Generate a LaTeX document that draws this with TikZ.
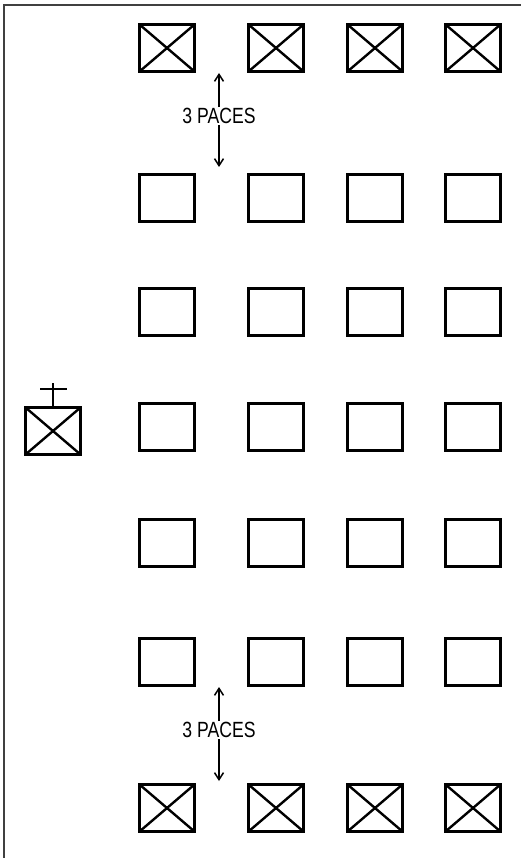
\documentclass[tikz,border=0pt]{standalone}
\usepackage{fontspec}
\setmainfont{Liberation Sans}
\usetikzlibrary{arrows.meta, positioning}
\tikzset{
  every picture/.style={x=1pt, y=-1pt},
  marker/.style={draw, line width=3.4pt, minimum width=55pt, minimum height=47pt, inner sep=0pt},
  crossed/.style={marker, path picture={
      \draw[line width=2.4pt] (path picture bounding box.north west) -- (path picture bounding box.south east)
        (path picture bounding box.north east) -- (path picture bounding box.south west);}},
  paces/.style={font=\fontsize{22}{24}\selectfont, xscale=0.8, inner sep=1pt},
  arrow/.style={-{Straight Barb[length=7pt, width=9pt]}, line width=1.5pt},
  frame/.style={draw=black!75, line width=1.6pt},
}
\begin{document}
\begin{tikzpicture}
  \useasboundingbox (0,0) rectangle (521,858);
  \draw[frame] (4,858) -- (4,5) -- (521,5);
  % columns and rows of markers
  \foreach \c/\x in {1/167, 2/276, 3/375, 4/473} {
    \node[crossed] (r1c\c) at (\x,48) {};
    \foreach \r/\y in {2/198, 3/312, 4/427, 5/543, 6/662}
      \node[marker] (r\r c\c) at (\x,\y) {};
    \node[crossed] (r7c\c) at (\x,808) {};
  }
  % guide
  \node[crossed] (guide) at (53,431) {};
  \coordinate (guidetop) at (53,383);
  \draw[line width=1.4pt] (guide.north) -- (guidetop);
  \draw[line width=1.4pt] (40,389) -- (67,389);
  % distances
  \node[paces] (topgap) at (219,116) {3 PACES};
  \coordinate (topup) at (219,73);
  \coordinate (topdown) at (219,167);
  \draw[arrow] (topgap.north) -- (topup);
  \draw[arrow] (topgap.south) -- (topdown);
  \node[paces] (botgap) at (219,730) {3 PACES};
  \coordinate (botup) at (219,687);
  \coordinate (botdown) at (219,781);
  \draw[arrow] (botgap.north) -- (botup);
  \draw[arrow] (botgap.south) -- (botdown);
\end{tikzpicture}
\end{document}
